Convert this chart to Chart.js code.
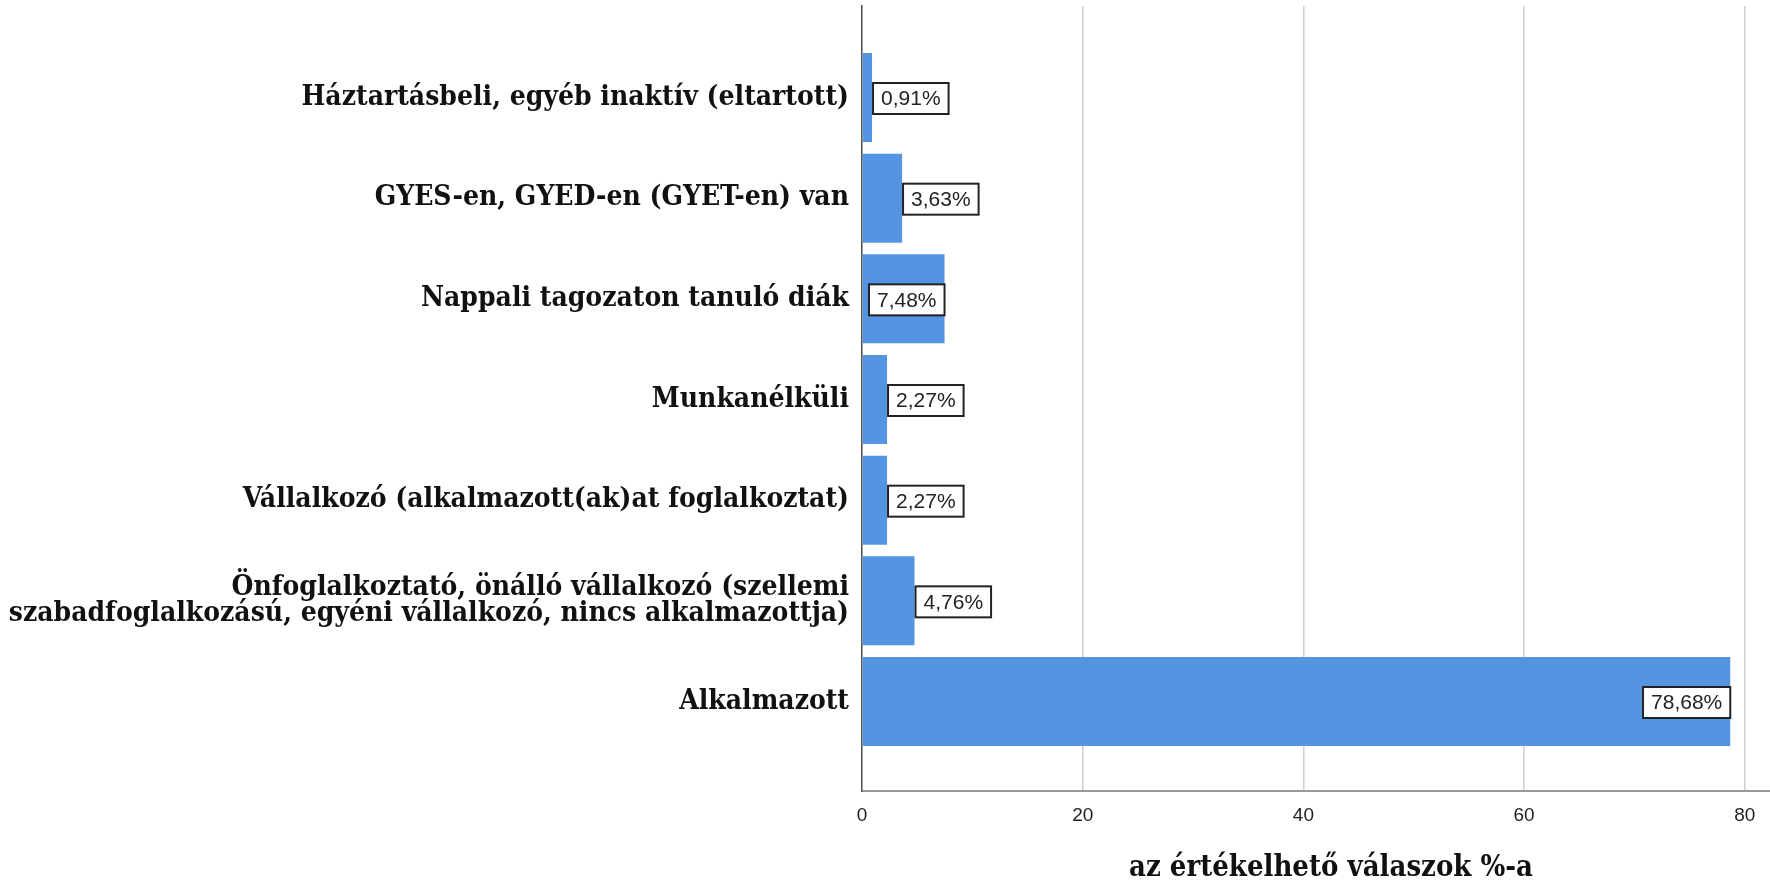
<!DOCTYPE html>
<html>
<head>
<meta charset="utf-8">
<script src="https://cdn.jsdelivr.net/npm/chart.js@4/dist/chart.umd.min.js"></script>
<style>
  html, body { margin: 0; padding: 0; background: #fff; overflow: hidden; }
  #wrap { width: 1800px; height: 883px; }
</style>
</head>
<body>
<div id="wrap"><canvas id="grafica"></canvas></div>
<script>
const kategoriak = [
  "Háztartásbeli, egyéb inaktív (eltartott)",
  "GYES-en, GYED-en (GYET-en) van",
  "Nappali tagozaton tanuló diák",
  "Munkanélküli",
  "Vállalkozó (alkalmazott(ak)at foglalkoztat)",
  ["Önfoglalkoztató, önálló vállalkozó (szellemi", "szabadfoglalkozású, egyéni vállalkozó, nincs alkalmazottja)"],
  "Alkalmazott"
];
const szazalekok = [0.91, 3.63, 7.48, 2.27, 2.27, 4.76, 78.68];
const xTickek = [0, 20, 40, 60, 80];

const serif = "'DejaVu Serif Condensed', 'DejaVu Serif', serif";
const sans = "'Liberation Sans', Arial, sans-serif";

// doboz a sáv végén a százalékkal
const cimkek = {
  id: "cimkek",
  afterDatasetsDraw(chart) {
    const ctx = chart.ctx;
    const meta = chart.getDatasetMeta(0);
    ctx.save();
    ctx.font = "21px " + sans;
    ctx.textBaseline = "middle";
    meta.data.forEach((bar, i) => {
      const szoveg = szazalekok[i].toFixed(2).replace(".", ",") + "%";
      const w = ctx.measureText(szoveg).width + 16;
      const h = 31;
      const hossz = bar.x - bar.base;
      const bal = hossz >= w ? bar.x - w : bar.x + 1;
      const fent = bar.y - h / 2 + 1;
      ctx.fillStyle = "#fff";
      ctx.fillRect(bal, fent, w, h);
      ctx.lineWidth = 2;
      ctx.strokeStyle = "#222";
      ctx.strokeRect(bal, fent, w, h);
      ctx.fillStyle = "#222";
      ctx.fillText(szoveg, bal + 8, fent + h / 2 + 1);
    });
    ctx.restore();
  }
};

new Chart(document.getElementById("grafica"), {
  type: "bar",
  data: {
    datasets: [{
      data: szazalekok.map((v, i) => ({ x: v, y: i })),
      backgroundColor: "#5594e3",
      borderWidth: 0,
      categoryPercentage: 1,
      barPercentage: 0.884
    }]
  },
  options: {
    indexAxis: "y",
    responsive: true,
    maintainAspectRatio: false,
    animation: false,
    layout: { padding: { top: 6, left: 0, right: 0, bottom: 0 } },
    plugins: { legend: { display: false }, tooltip: { enabled: false } },
    scales: {
      x: {
        type: "linear",
        position: "bottom",
        min: 0,
        max: 85,
        afterFit(scale) {
          scale.height = 92;
          scale.paddingLeft = 0;
          scale.paddingRight = 0;
        },
        afterBuildTicks(scale) { scale.ticks = xTickek.map(v => ({ value: v })); },
        grid: { color: "#cfcfcf", lineWidth: 1.5, drawTicks: false },
        border: { color: "#9a9a9a", width: 2 },
        ticks: { color: "#222", padding: 13, font: { family: sans, size: 19 } },
        title: {
          display: true,
          text: "az értékelhető válaszok %-a",
          color: "#111",
          font: { family: serif, size: 29, weight: "bold", lineHeight: 1.2 },
          padding: { top: 0, bottom: -3 }
        }
      },
      y: {
        type: "linear",
        reverse: true,
        offset: false,
        min: -0.909,
        max: 6.889,
        afterBuildTicks(scale) { scale.ticks = kategoriak.map((k, i) => ({ value: i })); },
        afterFit(scale) {
          scale.width = 862;
          scale.paddingTop = 0;
          scale.paddingBottom = 0;
        },
        grid: { display: false, drawTicks: false },
        border: { color: "#555", width: 1.5 },
        ticks: {
          autoSkip: false,
          padding: 13,
          color: "#111",
          font: { family: serif, size: 28, weight: "bold", lineHeight: 0.95 },
          callback: v => kategoriak[v]
        }
      }
    }
  },
  plugins: [cimkek]
});
</script>
</body>
</html>
